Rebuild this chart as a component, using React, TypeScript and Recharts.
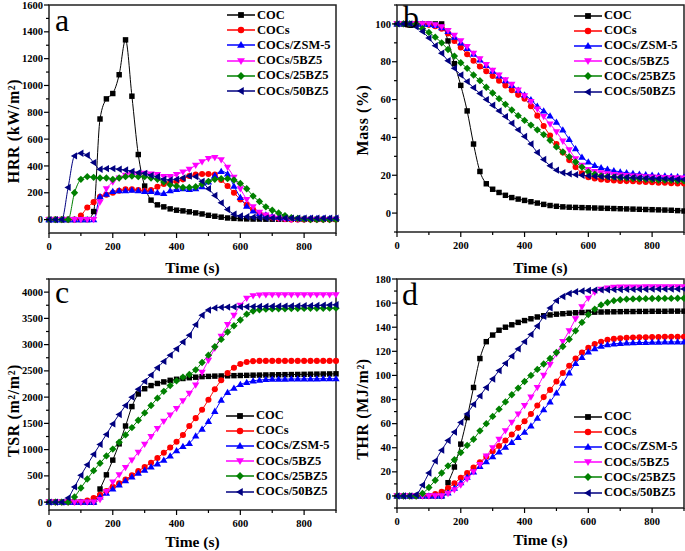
import { Legend, Line, LineChart, ReferenceArea, XAxis, YAxis } from 'recharts';

const FONT = '"Liberation Serif", "Times New Roman", Times, serif';

// time axis (s), one sample every 20 s
const TIME = [0, 20, 40, 60, 80, 100, 120, 140, 160, 180, 200, 220, 240, 260, 280, 300, 320, 340, 360, 380, 400, 420, 440, 460, 480, 500, 520, 540, 560, 580, 600, 620, 640, 660, 680, 700, 720, 740, 760, 780, 800, 820, 840, 860, 880, 900];

// a: heat release rate (kW/m2)
const HRR_COC = [0, 0, 0, 0, 0, 0, 0, 60, 750, 900, 940, 1080, 1340, 920, 485, 250, 145, 110, 95, 80, 70, 65, 58, 50, 42, 32, 25, 18, 12, 9, 7, 5, 4, 4, 3, 3, 3, 2, 2, 2, 2, 2, 2, 2, 2, 2];
const HRR_COCS = [0, 0, 0, 0, 0, 30, 90, 130, 170, 185, 200, 215, 225, 225, 220, 215, 220, 245, 265, 275, 285, 300, 325, 335, 340, 340, 335, 295, 250, 200, 150, 110, 75, 45, 28, 15, 8, 4, 0, 0, 0, 0, 0, 0, 0, 0];
const HRR_ZSM = [0, 0, 0, 0, 0, 0, 0, 0, 170, 190, 210, 215, 215, 220, 215, 210, 210, 200, 195, 215, 225, 230, 225, 230, 245, 280, 330, 360, 340, 250, 165, 100, 65, 45, 35, 25, 18, 12, 8, 8, 8, 8, 8, 8, 8, 8];
const HRR_5BZ5 = [0, 0, 0, 0, 0, 0, 0, 0, 130, 230, 280, 310, 330, 335, 340, 345, 340, 335, 320, 320, 335, 355, 375, 405, 430, 455, 462, 445, 390, 315, 230, 150, 95, 55, 33, 18, 10, 5, 0, 0, 0, 0, 0, 0, 0, 0];
const HRR_25BZ5 = [0, 0, 0, 0, 200, 300, 320, 315, 310, 310, 300, 310, 320, 325, 320, 320, 310, 300, 280, 260, 250, 240, 240, 245, 265, 285, 300, 305, 305, 295, 270, 230, 175, 135, 95, 70, 50, 30, 15, 8, 3, 0, 0, 0, 0, 0];
const HRR_50BZ5 = [0, 0, 0, 240, 475, 495, 480, 425, 375, 380, 380, 375, 370, 360, 350, 345, 330, 320, 300, 295, 300, 310, 325, 320, 285, 230, 180, 125, 75, 40, 27, 22, 18, 15, 12, 12, 12, 11, 11, 10, 10, 10, 10, 10, 10, 10];

// b: residual mass (%)
const MASS_COC = [100, 100, 100, 100, 100, 100, 100, 100, 91, 79, 67.5, 54, 36.5, 22, 15.5, 12.6, 10.9, 9.4, 8.2, 7.4, 6.7, 6, 5.3, 4.6, 4, 3.6, 3.3, 3.1, 3, 2.9, 2.8, 2.7, 2.6, 2.5, 2.4, 2.3, 2.2, 2.1, 2, 1.9, 1.8, 1.7, 1.6, 1.5, 1.3, 1.1];
const MASS_COCS = [100, 100, 100, 100, 100, 99.5, 98.8, 97.5, 95, 91, 87.5, 84, 80.5, 77.5, 75, 72.5, 70, 67.5, 65, 62.5, 60.5, 56.5, 51.5, 46, 41, 36.5, 32, 28, 24.3, 21, 19, 18.3, 17.8, 17.5, 17.2, 17, 16.9, 16.8, 16.6, 16.4, 16.3, 16.1, 16, 15.8, 15.7, 15.6];
const MASS_ZSM = [100, 100, 100, 100, 100, 99.7, 99.2, 98, 96, 93, 90, 87, 84, 81, 78, 75, 72.5, 70, 67.5, 65, 62.5, 60, 56.5, 54, 51.4, 48, 44, 39, 34, 29.6, 27, 25.2, 24, 23.2, 22.4, 21.8, 21.3, 20.9, 20.6, 20.3, 20, 19.8, 19.6, 19.4, 19.2, 19];
const MASS_5BZ5 = [100, 100, 100, 100, 100, 100, 99.5, 98.5, 96.5, 94, 91, 88, 84.5, 81.5, 78.5, 75.5, 73, 70.5, 68, 65, 62, 59, 55, 51, 47, 43, 38, 33.5, 28.7, 25.2, 23, 22, 21.3, 20.8, 20.4, 20.1, 19.8, 19.6, 19.4, 19.2, 19, 18.9, 18.8, 18.7, 18.6, 18.5];
const MASS_25BZ5 = [100, 100, 100, 100, 97.5, 95.5, 93, 90, 86.5, 83, 79.5, 76.5, 73, 70, 66.5, 63.5, 60.5, 57.5, 54.5, 51.5, 49, 46.5, 44, 41.5, 38.5, 35, 32.3, 29.8, 27, 24.3, 21.8, 20.5, 19.7, 19.3, 19, 18.7, 18.5, 18.3, 18.1, 17.9, 17.7, 17.5, 17.4, 17.3, 17.1, 17];
const MASS_50BZ5 = [100, 100, 100, 98.5, 96, 92.5, 88.5, 84.5, 80.5, 76.5, 73, 69.5, 66.3, 63.2, 60, 57, 54, 51, 47.5, 44, 40.5, 36.5, 32, 28.3, 25, 22.7, 21.3, 20.7, 20.3, 20, 19.7, 19.5, 19.3, 19.2, 19.1, 19, 18.9, 18.8, 18.6, 18.4, 18.3, 18.2, 18.1, 18, 17.9, 17.8];

// c: total smoke release (m2/m2)
const TSR_COC = [0, 0, 0, 0, 0, 0, 0, 0, 250, 520, 800, 1110, 1450, 1820, 2060, 2160, 2220, 2260, 2290, 2320, 2340, 2355, 2370, 2380, 2390, 2395, 2400, 2403, 2406, 2409, 2412, 2415, 2418, 2420, 2422, 2424, 2426, 2428, 2430, 2432, 2434, 2436, 2438, 2440, 2442, 2444];
const TSR_COCS = [0, 0, 0, 0, 0, 0, 30, 80, 140, 210, 290, 360, 430, 510, 590, 670, 750, 840, 940, 1040, 1150, 1280, 1450, 1600, 1760, 1950, 2150, 2320, 2460, 2560, 2630, 2670, 2685, 2690, 2690, 2690, 2690, 2690, 2690, 2690, 2690, 2690, 2690, 2690, 2690, 2690];
const TSR_ZSM = [0, 0, 0, 0, 0, 0, 0, 0, 100, 170, 250, 330, 410, 480, 550, 610, 670, 730, 800, 880, 980, 1060, 1120, 1260, 1390, 1535, 1730, 1940, 2090, 2170, 2240, 2280, 2310, 2325, 2335, 2340, 2342, 2344, 2345, 2346, 2347, 2348, 2349, 2350, 2350, 2350];
const TSR_5BZ5 = [0, 0, 0, 0, 0, 0, 0, 0, 50, 200, 380, 520, 660, 800, 950, 1100, 1250, 1400, 1540, 1660, 1780, 1930, 2070, 2230, 2470, 2700, 2930, 3160, 3380, 3560, 3750, 3880, 3930, 3945, 3950, 3950, 3950, 3950, 3950, 3950, 3950, 3950, 3950, 3950, 3950, 3950];
const TSR_25BZ5 = [0, 0, 0, 0, 100, 270, 440, 600, 740, 880, 1010, 1140, 1280, 1420, 1560, 1700, 1840, 1980, 2110, 2220, 2310, 2380, 2430, 2520, 2660, 2800, 2960, 3100, 3240, 3360, 3470, 3580, 3640, 3665, 3675, 3680, 3682, 3684, 3686, 3688, 3690, 3691, 3692, 3693, 3694, 3695];
const TSR_50BZ5 = [0, 0, 0, 80, 290, 510, 710, 910, 1100, 1290, 1490, 1670, 1840, 2000, 2150, 2300, 2420, 2560, 2680, 2800, 2920, 3050, 3180, 3380, 3560, 3660, 3700, 3710, 3715, 3718, 3720, 3722, 3724, 3726, 3728, 3730, 3732, 3734, 3736, 3738, 3740, 3742, 3745, 3750, 3755, 3760];

// d: total heat release (MJ/m2)
const THR_COC = [0, 0, 0, 0, 0, 0, 0, 0, 11, 24, 43, 65, 90, 114, 128, 133.5, 137.5, 140, 142, 144, 145.5, 147, 148.5, 149.5, 150.2, 150.8, 151.2, 151.6, 152, 152.2, 152.4, 152.5, 152.6, 152.7, 152.8, 152.9, 153, 153, 153.1, 153.1, 153.2, 153.2, 153.2, 153.3, 153.3, 153.3];
const THR_COCS = [0, 0, 0, 0, 0, 0, 1.5, 3.5, 6.5, 10.5, 15, 19, 23.5, 28, 32.5, 37, 41.5, 46, 51, 56.5, 62, 68, 75, 82, 88, 95, 102, 108, 114, 119, 123, 126, 128, 129.5, 130.3, 130.8, 131.2, 131.4, 131.6, 131.7, 131.8, 131.9, 132, 132, 132, 132];
const THR_ZSM = [0, 0, 0, 0, 0, 0, 0, 0, 2.5, 6.5, 11, 15.5, 20, 24.5, 28.5, 32.5, 36.5, 40.5, 44.5, 48.5, 53, 58, 64.5, 71.5, 78, 85.5, 93.5, 102, 110, 115, 119.4, 122.2, 124.3, 125.5, 126.2, 126.6, 126.9, 127.1, 127.3, 127.4, 127.5, 127.6, 127.7, 127.8, 127.8, 127.8];
const THR_5BZ5 = [0, 0, 0, 0, 0, 0, 0, 0, 2, 5, 9, 14, 20, 26, 33, 40, 47, 54, 61, 68, 75, 82, 90, 100, 109, 118, 128, 137, 147, 157, 164, 169, 171.5, 172.5, 173, 173.2, 173.3, 173.4, 173.4, 173.5, 173.5, 173.5, 173.6, 173.6, 173.6, 173.6];
const THR_25BZ5 = [0, 0, 0, 0, 2, 7, 13, 19, 25, 30, 36, 42, 47, 54, 60, 66, 72, 78, 84, 89.5, 95, 100, 105, 109.5, 114, 119, 124, 130, 137, 144, 150.5, 155, 158.5, 160.5, 162, 162.8, 163.3, 163.5, 163.6, 163.7, 163.8, 163.8, 163.9, 163.9, 164, 164];
const THR_50BZ5 = [0, 0, 0, 1, 9, 19, 29, 38, 46, 53, 61, 68, 76, 83, 90, 97, 104, 110, 116, 122, 128, 134, 141, 149, 156, 162, 165.5, 168, 169.4, 170, 170.5, 170.8, 171, 171.1, 171.2, 171.3, 171.4, 171.4, 171.5, 171.5, 171.6, 171.6, 171.6, 171.7, 171.7, 171.7];

const SERIES = [
    { key: 'coc', name: 'COC', color: '#000000', shape: 'square' },
    { key: 'cocs', name: 'COCs', color: '#ff0000', shape: 'circle' },
    { key: 'zsm', name: 'COCs/ZSM-5', color: '#0000ff', shape: 'up' },
    { key: 'bz5', name: 'COCs/5BZ5', color: '#ff00ff', shape: 'down' },
    { key: 'bz25', name: 'COCs/25BZ5', color: '#008000', shape: 'diamond' },
    { key: 'bz50', name: 'COCs/50BZ5', color: '#000080', shape: 'left' },
];

const X_TICKS = [0, 100, 200, 300, 400, 500, 600, 700, 800, 900];
const HRR_TICKS = [0, 100, 200, 300, 400, 500, 600, 700, 800, 900, 1000, 1100, 1200, 1300, 1400, 1500, 1600];
const MASS_TICKS = [-10, 0, 10, 20, 30, 40, 50, 60, 70, 80, 90, 100, 110];
const TSR_TICKS = [0, 250, 500, 750, 1000, 1250, 1500, 1750, 2000, 2250, 2500, 2750, 3000, 3250, 3500, 3750, 4000, 4250];
const THR_TICKS = [-10, 0, 10, 20, 30, 40, 50, 60, 70, 80, 90, 100, 110, 120, 130, 140, 150, 160, 170, 180];

function buildRows(cols: number[][]) {
    return TIME.map((t, i) => {
        const row: any = { t };
        SERIES.forEach((s, j) => { row[s.key] = cols[j][i]; });
        return row;
    });
}

function Marker({ cx, cy, shape, color, r = 3.2 }: any) {
    if (cx == null || cy == null) return null;
    const k = r * 1.15;
    switch (shape) {
        case 'square':
            return <rect x={cx - r * 0.85} y={cy - r * 0.85} width={r * 1.7} height={r * 1.7} fill={color} />;
        case 'circle':
            return <circle cx={cx} cy={cy} r={r * 0.95} fill={color} />;
        case 'up':
            return <polygon points={`${cx},${cy - k} ${cx - k},${cy + k * 0.7} ${cx + k},${cy + k * 0.7}`} fill={color} />;
        case 'down':
            return <polygon points={`${cx},${cy + k} ${cx - k},${cy - k * 0.7} ${cx + k},${cy - k * 0.7}`} fill={color} />;
        case 'diamond':
            return <polygon points={`${cx},${cy - k} ${cx + k},${cy} ${cx},${cy + k} ${cx - k},${cy}`} fill={color} />;
        default:
            return <polygon points={`${cx - k},${cy} ${cx + k * 0.7},${cy - k} ${cx + k * 0.7},${cy + k}`} fill={color} />;
    }
}

function LegendBox() {
    return (
        <div style={{ fontFamily: FONT, fontWeight: 'bold', fontSize: 12.5, color: '#000' }}>
            {SERIES.map(s => (
                <div key={s.key} style={{ display: 'flex', alignItems: 'center', height: 15.2, whiteSpace: 'nowrap' }}>
                    <svg width={28} height={10} style={{ flex: 'none' }}>
                        <line x1={0} x2={28} y1={5} y2={5} stroke={s.color} strokeWidth={1.5} />
                        <Marker cx={14} cy={5} shape={s.shape} color={s.color} r={3.4} />
                    </svg>
                    <span style={{ marginLeft: 2 }}>{s.name}</span>
                </div>
            ))}
        </div>
    );
}

function XTick({ x, y, payload }: any) {
    const major = payload.value % 200 === 0;
    return (
        <g>
            <line x1={x} x2={x} y1={y} y2={y + (major ? 5 : 3)} stroke="#000" strokeWidth={1.2} />
            {major && (
                <text x={x} y={y + 17} textAnchor="middle" fontFamily={FONT} fontWeight="bold" fontSize={10.5} fill="#000">
                    {payload.value}
                </text>
            )}
        </g>
    );
}

const makeYTick = (step: number, max: number) => ({ x, y, payload }: any) => {
    const v = payload.value;
    const major = v % step === 0 && v >= 0 && v <= max;
    return (
        <g>
            <line x1={x - (major ? 5 : 3)} x2={x} y1={y} y2={y} stroke="#000" strokeWidth={1.2} />
            {major && (
                <text x={x - 6} y={y + 3.6} textAnchor="end" fontFamily={FONT} fontWeight="bold" fontSize={10.5} fill="#000">
                    {v}
                </text>
            )}
        </g>
    );
};

type PanelProps = {
    left: number; top: number; width: number; height: number;
    mTop: number; mRight: number; yWidth: number; xHeight: number;
    rows: any[]; yDomain: [number, number]; yTicks: number[]; yStep: number; yMax: number;
    yTitle: string; yTitleX: number; yTitleShift: number; xTitleDy: number;
    letter: string; letterX: number; letterY: number;
    legendX: number; legendY: number;
};

function Panel(p: PanelProps) {
    const yTick = makeYTick(p.yStep, p.yMax);
    return (
        <div style={{ position: 'absolute', left: p.left, top: p.top, width: p.width, height: p.height }}>
            <LineChart width={p.width} height={p.height} data={p.rows}
                margin={{ top: p.mTop, right: p.mRight, left: 0, bottom: 0 }}>
                <XAxis dataKey="t" type="number" domain={[0, 900]} ticks={X_TICKS} interval={0}
                    axisLine={false} tickLine={false} tickSize={0} tickMargin={0} height={p.xHeight}
                    tick={(t: any) => <XTick {...t} />}
                    label={(lp: any) => {
                        const vb = lp.viewBox || {};
                        const cx = (vb.x ?? 0) + (vb.width ?? 0) / 2;
                        return (
                            <text x={cx} y={(vb.y ?? 0) + p.xTitleDy} textAnchor="middle" fontFamily={FONT}
                                fontWeight="bold" fontSize={15.5} fill="#000">Time (s)</text>
                        );
                    }} />
                <YAxis type="number" domain={p.yDomain} ticks={p.yTicks} interval={0} width={p.yWidth}
                    axisLine={false} tickLine={false} tickSize={0} tickMargin={0}
                    tick={(t: any) => yTick(t)}
                    label={(lp: any) => {
                        const vb = lp.viewBox || {};
                        const cy = (vb.y ?? 0) + (vb.height ?? 0) / 2 + p.yTitleShift;
                        return (
                            <text x={p.yTitleX} y={cy} transform={`rotate(-90 ${p.yTitleX} ${cy})`} textAnchor="middle"
                                dominantBaseline="central" fontFamily={FONT} fontWeight="bold" fontSize={16}
                                letterSpacing={0.6} fill="#000">{p.yTitle}</text>
                        );
                    }} />
                {SERIES.map(s => (
                    <Line key={s.key} type="monotone" dataKey={s.key} name={s.name} stroke={s.color}
                        strokeWidth={1} isAnimationActive={false} activeDot={false}
                        dot={(d: any) => <Marker key={`${s.key}-${d.index}`} cx={d.cx} cy={d.cy} shape={s.shape} color={s.color} />} />
                ))}
                <ReferenceArea x1={0} x2={900} y1={p.yDomain[0]} y2={p.yDomain[1]} fill="none" fillOpacity={0}
                    stroke="#222" strokeWidth={1.5} />
                <Legend layout="vertical" align="center" verticalAlign="middle" content={() => <LegendBox />}
                    wrapperStyle={{ left: p.legendX, top: p.legendY, width: 120 }} />
            </LineChart>
            <svg width={60} height={40} style={{ position: 'absolute', left: 0, top: 0, pointerEvents: 'none', overflow: 'visible' }}>
                <text x={p.letterX} y={p.letterY} fontFamily={FONT} fontSize={32} fill="#000">{p.letter}</text>
            </svg>
        </div>
    );
}

export default function App() {
    const hrr = buildRows([HRR_COC, HRR_COCS, HRR_ZSM, HRR_5BZ5, HRR_25BZ5, HRR_50BZ5]);
    const mass = buildRows([MASS_COC, MASS_COCS, MASS_ZSM, MASS_5BZ5, MASS_25BZ5, MASS_50BZ5]);
    const tsr = buildRows([TSR_COC, TSR_COCS, TSR_ZSM, TSR_5BZ5, TSR_25BZ5, TSR_50BZ5]);
    const thr = buildRows([THR_COC, THR_COCS, THR_ZSM, THR_5BZ5, THR_25BZ5, THR_50BZ5]);

    return (
        <div style={{ position: 'absolute', left: 0, top: 0, width: 685, height: 551, background: '#fff', overflow: 'hidden' }}>
            <Panel left={0} top={0} width={345} height={280} mTop={5} mRight={9} yWidth={49} xHeight={47}
                rows={hrr} yDomain={[-100, 1600]} yTicks={HRR_TICKS} yStep={200} yMax={1600}
                yTitle="HRR (kW/m²)" yTitleX={13} yTitleShift={12} xTitleDy={40}
                letter="a" letterX={55} letterY={31} legendX={227} legendY={7.5} />
            <Panel left={345} top={0} width={340} height={280} mTop={5} mRight={1} yWidth={52} xHeight={48}
                rows={mass} yDomain={[-10, 110]} yTicks={MASS_TICKS} yStep={20} yMax={100}
                yTitle="Mass (%)" yTitleX={17} yTitleShift={1.5} xTitleDy={41}
                letter="b" letterX={58} letterY={28} legendX={229} legendY={8} />
            <Panel left={0} top={275} width={345} height={276} mTop={4} mRight={9} yWidth={49} xHeight={41}
                rows={tsr} yDomain={[-150, 4250]} yTicks={TSR_TICKS} yStep={500} yMax={4000}
                yTitle="TSR (m²/m²)" yTitleX={13} yTitleShift={16} xTitleDy={37}
                letter="c" letterX={55} letterY={28} legendX={226} legendY={133} />
            <Panel left={345} top={275} width={340} height={276} mTop={4} mRight={1} yWidth={52} xHeight={43}
                rows={thr} yDomain={[-10, 180]} yTicks={THR_TICKS} yStep={20} yMax={180}
                yTitle="THR (MJ/m²)" yTitleX={17} yTitleShift={15.5} xTitleDy={37}
                letter="d" letterX={57} letterY={30} legendX={229} legendY={134} />
        </div>
    );
}
